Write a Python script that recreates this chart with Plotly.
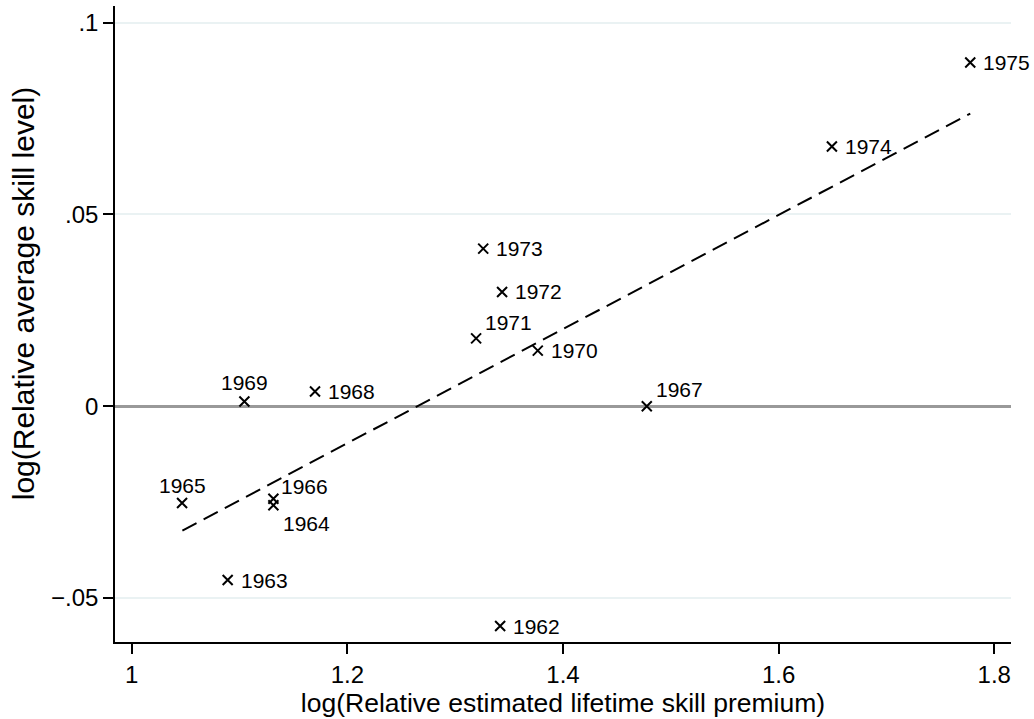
import plotly.graph_objects as go

years = ["1962", "1963", "1964", "1965", "1966", "1967", "1968", "1969",
         "1970", "1971", "1972", "1973", "1974", "1975"]
skill_premium = [1.3417, 1.089, 1.1314, 1.0467, 1.1314, 1.4777, 1.170, 1.1045,
                 1.3766, 1.3194, 1.3435, 1.326, 1.6494, 1.7777]
skill_level = [-0.0573, -0.0453, -0.0258, -0.0252, -0.0241, 0.0, 0.00383, 0.00122,
               0.0145, 0.0177, 0.0298, 0.0411, 0.0677, 0.0896]

# fitted line endpoints
fit_x = [1.047, 1.7777]
fit_y = [-0.0324, 0.0763]

x_ticks = [1, 1.2, 1.4, 1.6, 1.8]
x_tick_text = ["1", "1.2", "1.4", "1.6", "1.8"]
y_ticks = [-0.05, 0, 0.05, 0.1]
y_tick_text = ["\u2212.05", "0", ".05", ".1"]

x_title = "log(Relative estimated lifetime skill premium)"
y_title = "log(Relative average skill level)"

# label placement style per year: (xanchor, yanchor, xshift, yshift)
label_pos = {
    "1964": ("left", "middle", 8, -18),
    "1965": ("center", "middle", 0, 17),
    "1966": ("left", "middle", 6, 12),
    "1967": ("left", "middle", 7, 17),
    "1969": ("center", "middle", 0, 19),
    "1971": ("left", "middle", 7, 16),
}
default_pos = ("left", "middle", 11, 0)

FONT = "Liberation Sans, Arial, Helvetica, sans-serif"

fig = go.Figure()

fig.add_trace(go.Scatter(
    x=fit_x, y=fit_y, mode="lines",
    line=dict(color="black", width=2, dash="16px,8px"),
    hoverinfo="skip", showlegend=False,
))

fig.add_trace(go.Scatter(
    x=skill_premium, y=skill_level, mode="markers",
    marker=dict(symbol="x-thin-open", size=10, color="black",
                line=dict(color="black", width=2)),
    showlegend=False,
))

annotations = []
for yr, xv, yv in zip(years, skill_premium, skill_level):
    xa, ya, xs, ys = label_pos.get(yr, default_pos)
    annotations.append(dict(
        x=xv, y=yv, xref="x", yref="y", text=yr, showarrow=False,
        xanchor=xa, yanchor=ya, xshift=xs, yshift=ys,
        font=dict(family=FONT, size=21, color="black"),
    ))

# y-axis title as rotated annotation
annotations.append(dict(
    x=-0.1022, y=0.549, xref="paper", yref="paper", text=y_title,
    showarrow=False, textangle=-90, xanchor="center", yanchor="middle",
    font=dict(family=FONT, size=30, color="black"),
))

fig.update_layout(
    width=1034, height=719,
    margin=dict(l=115, r=23, t=6, b=77),
    paper_bgcolor="white", plot_bgcolor="white",
    font=dict(family=FONT, color="black"),
    annotations=annotations,
)

fig.update_xaxes(
    range=[0.9845, 1.8155],
    tickmode="array", tickvals=x_ticks, ticktext=x_tick_text,
    tickfont=dict(size=24, family=FONT, color="black"),
    ticks="outside", ticklen=10, tickwidth=1.5, tickcolor="black",
    showline=True, linecolor="black", linewidth=1.5,
    showgrid=False, zeroline=False,
    title=dict(text=x_title,
               font=dict(size=26.5, family=FONT, color="black"), standoff=0),
)

fig.update_yaxes(
    range=[-0.06146, 0.10435],
    tickmode="array", tickvals=y_ticks, ticktext=y_tick_text,
    tickfont=dict(size=24, family=FONT, color="black"),
    ticks="outside", ticklen=10, tickwidth=1.5, tickcolor="black",
    showline=True, linecolor="black", linewidth=1.5,
    showgrid=True, gridcolor="#eaf2f3", gridwidth=1.5,
    zeroline=True, zerolinecolor="#999999", zerolinewidth=2.5,
)

fig.write_html("out.html")
